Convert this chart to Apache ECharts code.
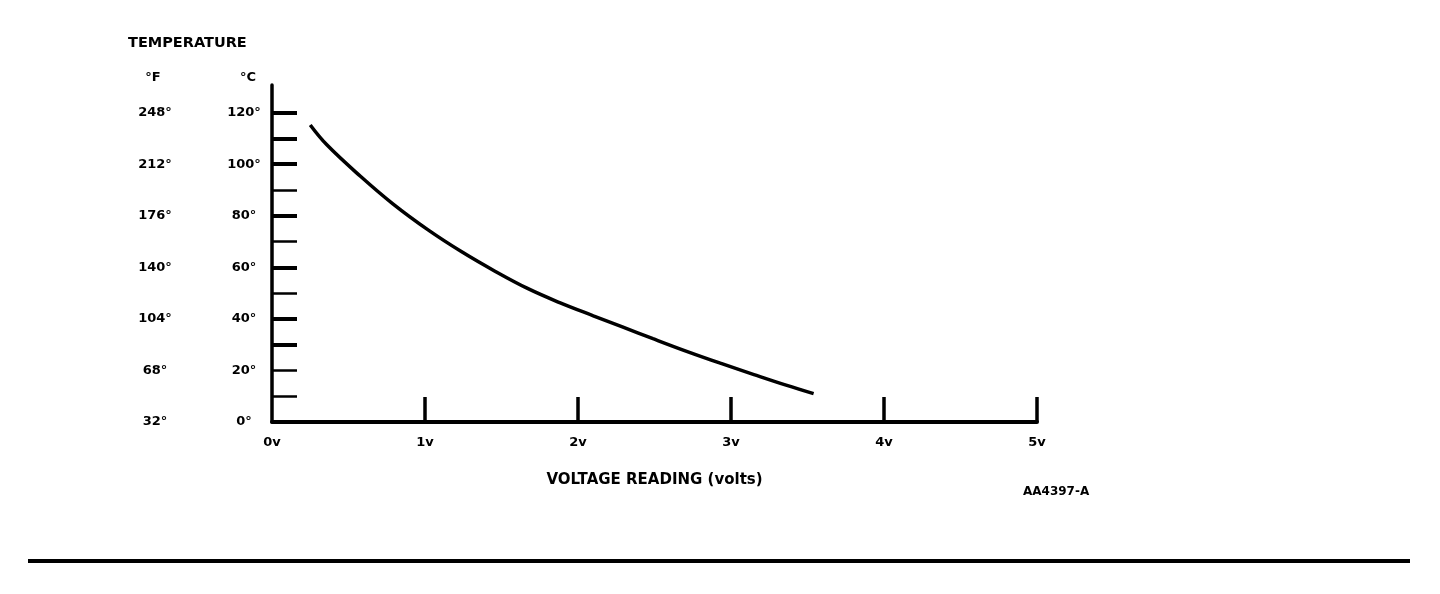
<!DOCTYPE html>
<html>
<head>
<meta charset="utf-8">
<script src="https://cdn.jsdelivr.net/npm/echarts@6/dist/echarts.min.js"></script>
<style>
html,body{margin:0;padding:0;background:#fff;}
#chart{width:1440px;height:594px;}
</style>
</head>
<body>
<div id="chart"></div>
<script>
// Curve (volts -> degrees C)
var voltage = [0.25, 0.36, 0.58, 0.79, 1.02, 1.24, 1.46, 1.67, 1.88, 2.10, 2.29, 2.49, 2.71, 2.93, 3.15, 3.36, 3.54];
var temperatureC = [115.2, 107.4, 95.2, 84.6, 74.5, 66.0, 58.4, 51.8, 46.3, 41.2, 36.9, 32.3, 27.4, 22.8, 18.4, 14.3, 11.0];

// Axis tick values and labels
var xTickValues = [1, 2, 3, 4, 5];
var xLabelValues = [0, 1, 2, 3, 4, 5];
var celsiusLabelValues = [0, 20, 40, 60, 80, 100, 120];
var fahrenheitLabels = ['32°', '68°', '104°', '140°', '176°', '212°', '248°'];
var heavyTickValues = [30, 40, 60, 80, 100, 110, 120];
var lightTickValues = [10, 20, 50, 70, 90];

var FONT = 'DejaVu Sans';
var seriesData = voltage.map(function (v, i) { return [v, temperatureC[i]]; });

var chart = echarts.init(document.getElementById('chart'), null, {renderer: 'canvas'});
chart.setOption({
  animation: false,
  backgroundColor: '#ffffff',
  grid: {left: 272, right: 403, top: 85, bottom: 172, containLabel: false},
  xAxis: {
    type: 'value', min: 0, max: 5, interval: 1,
    axisLine: {show: true, lineStyle: {color: '#000', width: 4}},
    axisTick: {show: true, inside: true, length: 25, customValues: xTickValues, lineStyle: {color: '#000', width: 3.5}},
    axisLabel: {show: true, customValues: xLabelValues, margin: 14, color: '#000', fontFamily: FONT, fontWeight: 'bold', fontSize: 13,
      formatter: function (v) { return v + 'v'; }},
    splitLine: {show: false},
    name: 'VOLTAGE READING (volts)', nameLocation: 'middle', nameGap: 51,
    nameTextStyle: {color: '#000', fontFamily: FONT, fontWeight: 'bold', fontSize: 15}
  },
  yAxis: [
    {
      type: 'value', min: 0, max: 130.7, position: 'left',
      axisLine: {show: true, lineStyle: {color: '#000', width: 3.5}},
      axisTick: {show: true, inside: true, length: 25, customValues: heavyTickValues, lineStyle: {color: '#000', width: 4}},
      axisLabel: {show: true, customValues: celsiusLabelValues, align: 'center', margin: 28, color: '#000',
        fontFamily: FONT, fontWeight: 'bold', fontSize: 13,
        formatter: function (v) { return v + '°'; }},
      splitLine: {show: false}
    },
    {
      type: 'value', min: 0, max: 130.7, position: 'left',
      axisLine: {show: false},
      axisTick: {show: true, inside: true, length: 25, customValues: lightTickValues, lineStyle: {color: '#000', width: 2.5}},
      axisLabel: {show: true, customValues: celsiusLabelValues, align: 'center', margin: 117, color: '#000',
        fontFamily: FONT, fontWeight: 'bold', fontSize: 13,
        formatter: function (v) { return fahrenheitLabels[celsiusLabelValues.indexOf(v)]; }},
      splitLine: {show: false}
    }
  ],
  series: [{
    type: 'line', xAxisIndex: 0, yAxisIndex: 0, data: seriesData,
    smooth: 0.4, showSymbol: false, symbol: 'none',
    lineStyle: {color: '#000', width: 3.5, cap: 'butt'}
  }],
  graphic: [
    {type: 'text', left: 128, top: 36, style: {text: 'TEMPERATURE', fill: '#000', font: 'bold 14.5px "DejaVu Sans"'}},
    {type: 'text', x: 153, y: 78, style: {text: '°F', fill: '#000', font: 'bold 13px "DejaVu Sans"', textAlign: 'center', textVerticalAlign: 'middle'}},
    {type: 'text', x: 248, y: 78, style: {text: '°C', fill: '#000', font: 'bold 13px "DejaVu Sans"', textAlign: 'center', textVerticalAlign: 'middle'}},
    {type: 'text', x: 1023, y: 492, style: {text: 'AA4397-A', fill: '#000', font: 'bold 12px "DejaVu Sans"', textAlign: 'left', textVerticalAlign: 'middle'}},
    {type: 'line', shape: {x1: 28, y1: 561, x2: 1410, y2: 561}, style: {stroke: '#000', lineWidth: 4}}
  ]
});
</script>
</body>
</html>
